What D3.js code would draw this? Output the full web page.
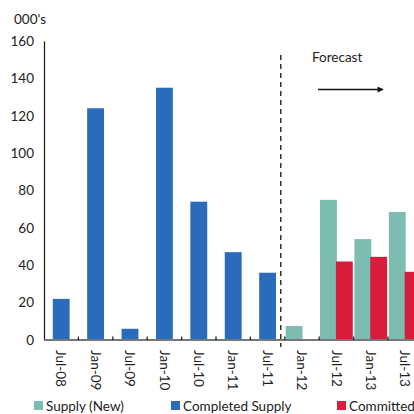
<!DOCTYPE html>
<html>
<head>
<meta charset="utf-8">
<script src="https://cdn.jsdelivr.net/npm/d3@7"></script>
<style>
  html, body { margin: 0; padding: 0; background: #fff; }
  svg { display: block; font-family: Lato, "Open Sans", sans-serif; }
</style>
</head>
<body>
<svg id="chart" width="414" height="414"></svg>
<script>
// Half-year periods
const categories = ["Jul-08", "Jan-09", "Jul-09", "Jan-10", "Jul-10", "Jan-11", "Jul-11", "Jan-12", "Jul-12", "Jan-13", "Jul-13"];
// Completed supply (000's), actual periods
const completedSupply = [22, 124, 6, 135, 74, 47, 36, null, null, null, null];
// Forecast new supply and committed (000's)
const supplyNew = [null, null, null, null, null, null, null, 7.5, 75, 54, 68.5];
const committed = [null, null, null, null, null, null, null, null, 42, 44.5, 36.5];
const yTicks = [0, 20, 40, 60, 80, 100, 120, 140, 160];
const legendItems = ["Supply (New)", "Completed Supply", "Committed"];

const colors = { supply: "#7dbcb1", completed: "#2a6bbb", committed: "#d81c3c" };

const svg = d3.select("#chart");
const plotLeft = 44, plotTop = 41, plotBottom = 340;
const fontSize = 13.5;

const x = d3.scaleBand().domain(categories).range([plotLeft, plotLeft + 11 * 34.4]).paddingInner(0).paddingOuter(0);
const y = d3.scaleLinear().domain([0, 160]).range([plotBottom, plotTop]);
const bw = x.bandwidth() * 0.49;

// Completed supply bars (centred in each band)
svg.append("g").selectAll("rect")
  .data(categories.map((c, i) => ({ c, v: completedSupply[i] })).filter(d => d.v != null))
  .join("rect")
  .attr("x", d => x(d.c) + x.bandwidth() / 2 - bw / 2)
  .attr("y", d => y(d.v))
  .attr("width", bw)
  .attr("height", d => y(0) - y(d.v))
  .attr("fill", colors.completed);

// Supply (New) bars, left half of the band
svg.append("g").selectAll("rect")
  .data(categories.map((c, i) => ({ c, v: supplyNew[i] })).filter(d => d.v != null))
  .join("rect")
  .attr("x", d => x(d.c) + x.bandwidth() / 2 - bw + 0.5)
  .attr("y", d => y(d.v))
  .attr("width", bw)
  .attr("height", d => y(0) - y(d.v))
  .attr("fill", colors.supply);

// Committed bars, right half of the band
svg.append("g").selectAll("rect")
  .data(categories.map((c, i) => ({ c, v: committed[i] })).filter(d => d.v != null))
  .join("rect")
  .attr("x", d => x(d.c) + x.bandwidth() / 2 - 0.5)
  .attr("y", d => y(d.v))
  .attr("width", bw)
  .attr("height", d => y(0) - y(d.v))
  .attr("fill", colors.committed);

// Y axis: line and labels, no tick marks
const yAxis = svg.append("g").attr("transform", `translate(${plotLeft},0)`)
  .call(d3.axisLeft(y).tickValues(yTicks).tickSize(0).tickPadding(10));
yAxis.select(".domain").attr("stroke", "#222").attr("stroke-width", 1.3);
yAxis.selectAll("text").attr("font-size", fontSize).attr("fill", "#222").attr("font-family", "Lato");

// Category axis along zero
const xAxis = svg.append("g").attr("transform", `translate(0,${plotBottom})`);
xAxis.append("line")
  .attr("x1", plotLeft).attr("x2", 414)
  .attr("stroke", "#777").attr("stroke-width", 1.8);
xAxis.selectAll("line.tick")
  .data(categories.slice(1))
  .join("line")
  .attr("class", "tick")
  .attr("x1", d => x(d)).attr("x2", d => x(d))
  .attr("y1", -3.5).attr("y2", 0)
  .attr("stroke", "#222").attr("stroke-width", 1.3);
xAxis.selectAll("text")
  .data(categories)
  .join("text")
  .attr("transform", d => `translate(${x(d) + x.bandwidth() / 2},10) rotate(90)`)
  .attr("dy", "0.35em")
  .attr("font-size", fontSize)
  .attr("fill", "#222")
  .text(d => d);

// Unit label
svg.append("text").attr("x", 14).attr("y", 24).attr("font-size", fontSize).attr("fill", "#222").text("000's");

// Forecast divider
const divX = x("Jan-12") - 4;
svg.append("line")
  .attr("x1", divX).attr("x2", divX)
  .attr("y1", 55).attr("y2", 347)
  .attr("stroke", "#111").attr("stroke-width", 1.3)
  .attr("stroke-dasharray", "5,4");

svg.append("text").attr("x", 312).attr("y", 62).attr("font-size", fontSize).attr("fill", "#222").text("Forecast");

svg.append("defs").append("marker")
  .attr("id", "arrowhead").attr("viewBox", "0 0 10 10")
  .attr("refX", 9).attr("refY", 5)
  .attr("markerWidth", 7).attr("markerHeight", 6)
  .attr("markerUnits", "userSpaceOnUse")
  .attr("orient", "auto")
  .append("path").attr("d", "M0,0 L10,5 L0,10 Z").attr("fill", "#111");
svg.append("line")
  .attr("x1", 318).attr("x2", 383)
  .attr("y1", 89.5).attr("y2", 89.5)
  .attr("stroke", "#111").attr("stroke-width", 1.5)
  .attr("marker-end", "url(#arrowhead)");

// Legend
const legendX = [34, 171, 337];
const legendColors = [colors.supply, colors.completed, colors.committed];
const legend = svg.append("g").selectAll("g")
  .data(legendItems)
  .join("g")
  .attr("transform", (d, i) => `translate(${legendX[i]},401)`);
legend.append("rect").attr("width", 9).attr("height", 9).attr("fill", (d, i) => legendColors[i]);
legend.append("text").attr("x", 12).attr("y", 9.5).attr("font-size", fontSize).attr("fill", "#222").text(d => d);
</script>
</body>
</html>
